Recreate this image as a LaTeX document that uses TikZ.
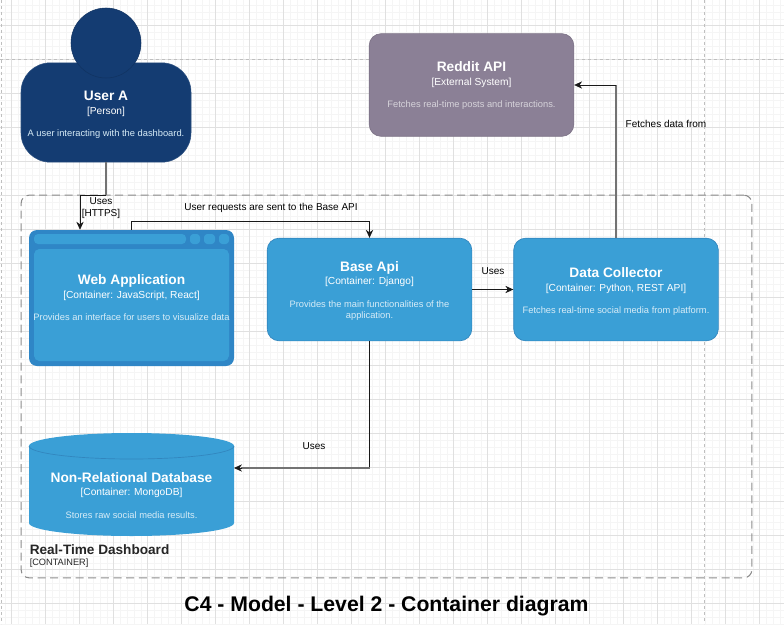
\documentclass[tikz,border=0pt]{standalone}
\usepackage{fontspec}
\setmainfont{Liberation Sans}
\usetikzlibrary{arrows.meta}
\definecolor{navy}{HTML}{143C72}
\definecolor{blu}{HTML}{3A9FD6}
\definecolor{bluedge}{HTML}{3286BE}
\definecolor{outerblu}{HTML}{2F86C6}
\definecolor{ext}{HTML}{8B8096}
\definecolor{gridmin}{HTML}{F5F5F5}
\definecolor{gridmaj}{HTML}{E0E0E0}
\tikzset{
  x=0.75pt,y=-0.75pt,
  boxn/.style={rectangle,rounded corners=9pt,minimum width=153.5pt,minimum height=77pt,inner sep=0pt,fill=blu,draw=bluedge,line width=0.5pt},
  lbl/.style={font=\fontsize{7.5}{9}\selectfont,text=black,inner sep=0pt,align=center},
  link/.style={draw=black!90,line width=0.6pt,-{Stealth[length=6pt,width=5.5pt]}},
  linkgray/.style={draw=black!55,line width=1.1pt},
  pagebreak/.style={draw=black!25,line width=0.4pt,dash pattern=on 2.5pt off 2pt},
}
\newcommand{\inbox}[3]{\begin{tabular}{@{}c@{}}{\bfseries\fontsize{10.3}{12}\selectfont #1}\\[-2pt]{\fontsize{7.65}{8}\selectfont #2}\\[5pt]{\color{white!80!blu}\fontsize{7}{8}\selectfont #3}\end{tabular}}
\begin{document}
\begin{tikzpicture}
\useasboundingbox (0,0) rectangle (784,624);
\fill[white] (0,0) rectangle (784,624);
% grid
\foreach \i in {0,...,116} {\draw[gridmin,line width=0.35pt] ({4.9+6.8*\i},0) -- ({4.9+6.8*\i},624);}
\foreach \i in {0,...,92} {\draw[gridmin,line width=0.35pt] (0,{5.3+6.8*\i}) -- (784,{5.3+6.8*\i});}
\foreach \i in {0,...,22} {\draw[gridmaj,line width=0.5pt] ({11.7+34*\i},0) -- ({11.7+34*\i},624);}
\foreach \i in {0,...,18} {\draw[gridmaj,line width=0.5pt] (0,{25.7+34*\i}) -- (784,{25.7+34*\i});}
\draw[pagebreak] (1,0) -- (1,624);
\draw[pagebreak] (704,0) -- (704,624);
\draw[pagebreak] (0,59) -- (784,59);
% container
\node[draw=black!45,dash pattern=on 6pt off 3.5pt,line width=0.8pt,rounded corners=6pt,minimum width=548pt,minimum height=287pt,inner sep=0pt] (cont) at (386.5,386.5) {};
% user
\node[rectangle,rounded corners=22pt,fill=navy,draw=navy!90!white,minimum width=127.5pt,minimum height=74.5pt,inner sep=0pt] (user) at (106,112.5) {};
\node[circle,fill=navy,draw=navy!85!black,line width=0.4pt,minimum size=52.5pt,inner sep=0pt] (head) at (106,43) {};
\node[text=white,inner sep=0pt] (usert) at (106,115.5) {\inbox{User A}{[Person]}{A user interacting with the dashboard.}};
% reddit
\node[boxn,fill=ext,draw=ext!90!black,text=white] (reddit) at (471.5,85) {};
\node[text=white,inner sep=0pt] (reddt) at (471.5,86.5) {\inbox{Reddit API}{[External System]}{\color{white!65!ext}Fetches real-time posts and interactions.}};
% web app
\node[rectangle,rounded corners=6pt,fill=outerblu,minimum width=153.75pt,minimum height=102pt,inner sep=0pt] (web) at (131.5,298) {};
\fill[blu,rounded corners=3pt] (34,234) rectangle (186,244);
\fill[blu,rounded corners=2.5pt] (190,234) rectangle (200,244);
\fill[blu,rounded corners=2.5pt] (204,234) rectangle (215,244);
\fill[blu,rounded corners=2.5pt] (219,234) rectangle (229,244);
\fill[blu,rounded corners=4pt] (34,249) rectangle (229,361);
\node[text=white,inner sep=0pt] (webt) at (131.5,299.5) {\inbox{Web Application}{[Container: JavaScript, React]}{Provides an interface for users to visualize data}};
% base
\node[boxn,text=white] (base) at (369.5,289.5) {};
\node[text=white,inner sep=0pt] (baset) at (369.5,292) {\begin{tabular}{@{}c@{}}{\bfseries\fontsize{10.3}{12}\selectfont Base Api}\\[-2pt]{\fontsize{7.65}{8}\selectfont [Container: Django]}\\[5pt]{\color{white!80!blu}\fontsize{7}{8}\selectfont Provides the main functionalities of the}\\[-3.5pt]{\color{white!80!blu}\fontsize{7}{8}\selectfont application.}\end{tabular}};
% collector
\node[boxn,text=white] (coll) at (616,289.5) {};
\node[text=white,inner sep=0pt] (collt) at (616,292.5) {\inbox{Data Collector}{[Container: Python, REST API]}{Fetches real-time social media from platform.}};
% database
\fill[blu] (29,446) -- (29,523) arc[start angle=180,end angle=0,x radius=102.5,y radius=13] -- (234,446) arc[start angle=0,end angle=-180,x radius=102.5,y radius=13] -- cycle;
\draw[bluedge,line width=0.5pt] (29,446) arc[start angle=180,end angle=0,x radius=102.5,y radius=13];
\node[minimum width=153.75pt,minimum height=77pt,inner sep=0pt] (db) at (131.5,484.5) {};
\node[text=white,inner sep=0pt] (dbt) at (131.5,497) {\inbox{Non-Relational Database}{[Container: MongoDB]}{Stores raw social media results.}};
% container label
\node[anchor=west,inner sep=0pt,text=black!85] (contt) at (29.5,550) {\bfseries\fontsize{10.2}{11}\selectfont Real-Time Dashboard};
\node[anchor=west,inner sep=0pt,text=black!85] (contb) at (29.5,563.5) {\fontsize{6.9}{8}\selectfont [CONTAINER]};
% title
\node[inner sep=0pt] (title) at (386.5,606.5) {\bfseries\fontsize{15.9}{18}\selectfont C4 - Model - Level 2 - Container diagram};
% connectors
\coordinate (c1) at (106,195);
\coordinate (c2) at (80,195);
\coordinate (c3) at (131.5,221);
\coordinate (c4) at (369.5,468);
\coordinate (c5) at (616,85);
\coordinate (c6) at (234,468);
\draw[linkgray] (user.south -| c1) -- (c1);
\draw[link] (c1) -- (c2) -- (c2 |- web.north);
\draw[link] (web.north) -- (c3) -| (base.north);
\draw[link] (base.east) -- (coll.west);
\draw[link,-] (base.south) -- (c4);
\draw[linkgray] (c4) -- ([xshift=5pt]c6);
\draw[link] ([xshift=6pt]c6) -- (c6);
\draw[linkgray] (coll.north) -- (c5);
\draw[link] (c5) -- (reddit.east);
% labels
\node[lbl] (l1) at (101,208) {Uses\\{[HTTPS]}};
\node[lbl] (l2) at (271,208) {User requests are sent to the Base API};
\node[lbl] (l3) at (493,271.5) {Uses};
\node[lbl] (l4) at (314,446.5) {Uses};
\node[lbl] (l5) at (666,123.5) {Fetches data from};
\end{tikzpicture}
\end{document}
